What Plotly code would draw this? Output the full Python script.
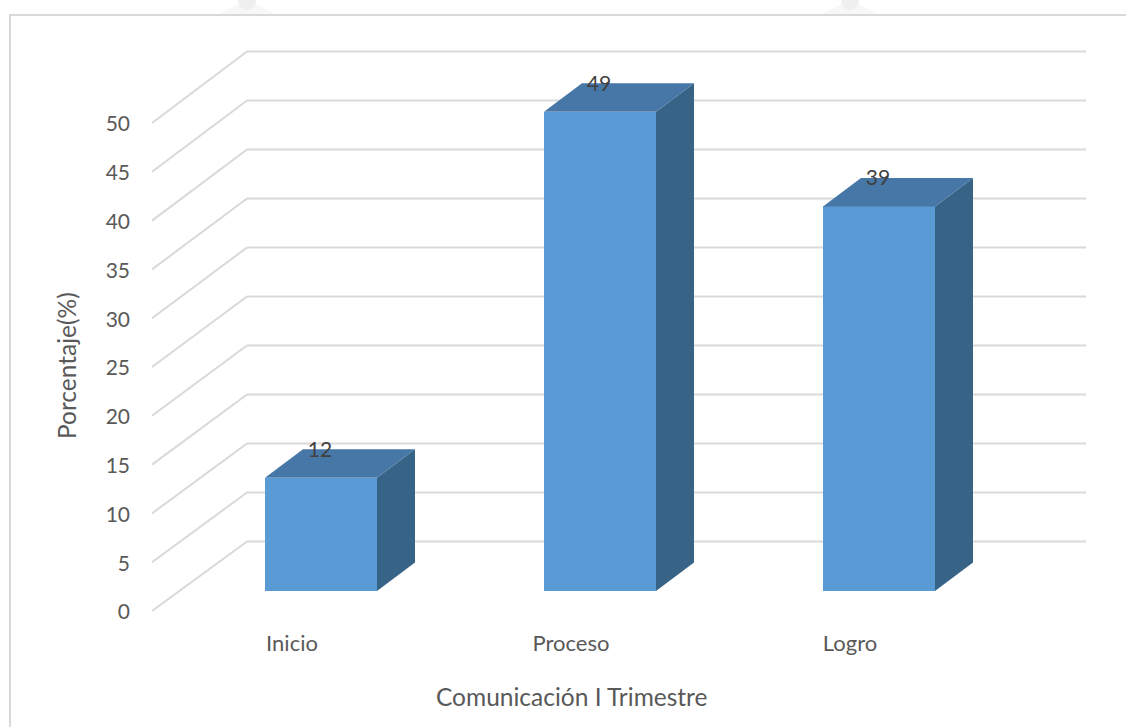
import plotly.graph_objects as go

# --- data ---
categorias = ["Inicio", "Proceso", "Logro"]
etiquetas = [12, 49, 39]
alturas = [11.6, 49.1, 39.4]
marcas_y = [0, 5, 10, 15, 20, 25, 30, 35, 40, 45, 50]
titulo_x = "Comunicación I Trimestre"
titulo_y = "Porcentaje(%)"

# --- layout constants (pixels of the 1126x727 page) ---
W, H = 1126, 727
L, R, T, B = 150, 1090, 45, 613
PX_X = 279.0   # pixels per category
PX_Y = 9.76    # pixels per value unit
X0_PX, Y0_PX = 321.0, 611.0

def ux(px):
    return (px - X0_PX) / PX_X

def uy(py):
    return (Y0_PX - py) / PX_Y

def pap_x(px):
    return (px - L) / (R - L)

def pap_y(py):
    return (B - py) / (B - T)

ANCHO = 112 / PX_X
BASE = 20 / PX_Y
DX = 38 / PX_X
DY = 28.5 / PX_Y
FONDO_DX = 95 / PX_X
FONDO_DY = 69.5 / PX_Y
PASO_FONDO = 9.8 / PX_Y
FIN_X = ux(1086)
IZQ_X = ux(152)

AZUL = "#5B9BD5"
AZUL_LADO = "#376387"
AZUL_TAPA = "#4677A7"
GRIS = "#D9D9D9"
TEXTO = "#595959"
FUENTE = "Lato, Carlito, sans-serif"

xs = list(range(len(categorias)))
fig = go.Figure()

# front faces
fig.add_trace(go.Bar(
    x=xs, y=alturas, base=[BASE] * len(xs), width=ANCHO,
    marker=dict(color=AZUL, line=dict(width=0)),
    hoverinfo="skip", showlegend=False,
))

# side and top faces
for x, h in zip(xs, alturas):
    izq, der = x - ANCHO / 2, x + ANCHO / 2
    tope = BASE + h
    fig.add_trace(go.Scatter(
        x=[der, der + DX, der + DX, der, der],
        y=[BASE, BASE + DY, tope + DY, tope, BASE],
        mode="lines", fill="toself", fillcolor=AZUL_LADO,
        line=dict(width=0), hoverinfo="skip", showlegend=False,
    ))
    fig.add_trace(go.Scatter(
        x=[izq, izq + DX, der + DX, der, izq],
        y=[tope, tope + DY, tope + DY, tope, tope],
        mode="lines", fill="toself", fillcolor=AZUL_TAPA,
        line=dict(width=0), hoverinfo="skip", showlegend=False,
    ))

# data labels
fig.add_trace(go.Scatter(
    x=[x - 1 / PX_X for x in xs],
    y=[BASE + h + 26.5 / PX_Y for h in alturas],
    text=[str(e) for e in etiquetas],
    mode="text", textposition="middle center",
    textfont=dict(family=FUENTE, size=21, color="#404040"),
    hoverinfo="skip", showlegend=False,
))

# back wall grid and left-wall diagonals
formas = []
for v in marcas_y:
    y_fondo = FONDO_DY + v * PASO_FONDO
    formas.append(dict(type="line", layer="below", xref="x", yref="y",
                       x0=IZQ_X + FONDO_DX, x1=FIN_X, y0=y_fondo, y1=y_fondo,
                       line=dict(color=GRIS, width=2)))
    formas.append(dict(type="line", layer="below", xref="x", yref="y",
                       x0=IZQ_X, x1=IZQ_X + FONDO_DX, y0=v, y1=y_fondo,
                       line=dict(color=GRIS, width=2)))

# faint watermark remnants above the frame
for cx in (247, 850):
    formas.append(dict(type="path", layer="below", xref="paper", yref="paper",
                       path=(f"M {pap_x(cx - 28)} {pap_y(14)} "
                             f"L {pap_x(cx - 8)} {pap_y(4)} L {pap_x(cx + 8)} {pap_y(4)} "
                             f"L {pap_x(cx + 28)} {pap_y(14)} Z"),
                       fillcolor="#F7F7F7", line=dict(width=0)))
    formas.append(dict(type="circle", layer="below", xref="paper", yref="paper",
                       x0=pap_x(cx - 9), x1=pap_x(cx + 9), y0=pap_y(-8), y1=pap_y(10),
                       fillcolor="#EFEFEF", line=dict(width=0)))

# outer chart frame
formas.append(dict(type="line", xref="paper", yref="paper",
                   x0=pap_x(10), x1=pap_x(10), y0=pap_y(15), y1=pap_y(H),
                   line=dict(color=GRIS, width=2)))
formas.append(dict(type="line", xref="paper", yref="paper",
                   x0=pap_x(9), x1=pap_x(W), y0=pap_y(15), y1=pap_y(15),
                   line=dict(color=GRIS, width=2)))

fig.update_layout(
    width=W, height=H,
    margin=dict(l=L, r=W - R, t=T, b=H - B, pad=0),
    paper_bgcolor="white", plot_bgcolor="rgba(0,0,0,0)",
    showlegend=False, shapes=formas, bargap=0,
    font=dict(family=FUENTE, size=21, color=TEXTO),
    xaxis=dict(
        range=[ux(L), ux(R)], showgrid=False, zeroline=False, showline=False,
        tickmode="array", tickvals=[x - 29 / PX_X for x in xs], ticktext=categorias,
        ticks="", ticklabelstandoff=15,
        tickfont=dict(family=FUENTE, size=22, color=TEXTO),
    ),
    yaxis=dict(
        range=[uy(B), uy(T)], showgrid=False, zeroline=False, showline=False,
        tickmode="array", tickvals=marcas_y, ticktext=[str(v) for v in marcas_y],
        ticks="", ticklabelstandoff=19, ticklabelshift=1,
        tickfont=dict(family=FUENTE, size=21, color=TEXTO),
    ),
    annotations=[
        dict(text=titulo_x, xref="paper", yref="paper", x=pap_x(571), y=pap_y(696),
             xanchor="center", yanchor="middle", showarrow=False,
             font=dict(family=FUENTE, size=24.5, color=TEXTO)),
        dict(text=titulo_y, xref="paper", yref="paper", x=pap_x(66), y=pap_y(366),
             xanchor="center", yanchor="middle", showarrow=False, textangle=-90,
             font=dict(family=FUENTE, size=24.5, color=TEXTO)),
    ],
)

fig.write_html("out.html", config=dict(displayModeBar=False),
               post_script="document.body.style.margin='0';document.body.style.overflow='hidden';")
